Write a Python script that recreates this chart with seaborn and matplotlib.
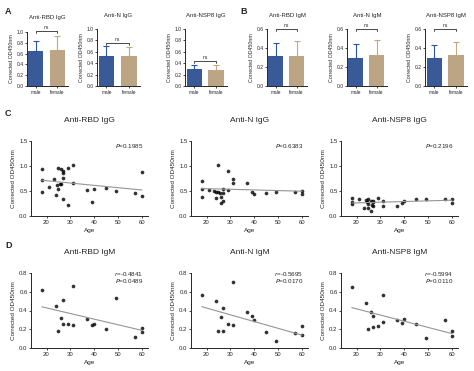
import numpy as np
import pandas as pd
import matplotlib
matplotlib.use("Agg")
import matplotlib.pyplot as plt
import seaborn as sns

sns.set_style("ticks")
plt.rcParams['font.family'] = ['Liberation Sans', 'DejaVu Sans']
plt.rcParams['axes.linewidth'] = 0.7
plt.rcParams['xtick.major.width'] = 0.6
plt.rcParams['ytick.major.width'] = 0.6
plt.rcParams['xtick.major.size'] = 1.5
plt.rcParams['ytick.major.size'] = 1.5
plt.rcParams['xtick.major.pad'] = 1.5
plt.rcParams['ytick.major.pad'] = 1.0

# ---- bar data (mean, upper SD end) ----
sexes = ['male', 'female']
bar_titles = ['Anti-RBD IgG', 'Anti-N IgG', 'Anti-NSP8 IgG',
              'Anti-RBD IgM', 'Anti-N IgM', 'Anti-NSP8 IgM']
bar_means = [[0.64, 0.66], [0.53, 0.53], [0.29, 0.28],
             [0.32, 0.32], [0.29, 0.33], [0.29, 0.33]]
bar_tops = [[0.83, 0.92], [0.70, 0.69], [0.36, 0.37],
            [0.45, 0.47], [0.44, 0.48], [0.43, 0.46]]
bracket_y = [1.02, 0.76, 0.44, 0.60, 0.60, 0.60]

# ---- scatter data ----
age_rbd_igg = [18, 18, 18, 21, 23, 24, 24.5, 25, 25, 25.5, 26, 26, 27, 27, 27, 27,
               29, 29, 31, 31, 37, 39, 40, 45, 49, 57, 60, 60]
od_rbd_igg = [0.95, 0.73, 0.48, 0.59, 0.75, 0.43, 0.63, 0.96, 0.54, 0.65, 0.95, 0.65,
              0.77, 0.90, 0.87, 0.35, 0.96, 0.23, 1.02, 0.66, 0.52, 0.29, 0.54, 0.56,
              0.50, 0.47, 0.88, 0.40]

age_n_igg = [18, 18, 18, 21, 23, 24, 24, 25, 25, 25.5, 26, 26, 27, 27, 27, 29, 29,
             31, 31, 37, 39, 40, 45, 49, 57, 60, 60]
od_n_igg = [0.71, 0.55, 0.39, 0.53, 0.51, 0.49, 0.36, 1.03, 0.49, 0.47, 0.39, 0.26,
            0.55, 0.47, 0.31, 0.90, 0.53, 0.75, 0.66, 0.67, 0.49, 0.45, 0.47, 0.48,
            0.49, 0.51, 0.45]

age_nsp8_igg = [18, 18, 18, 21, 23, 24, 24.5, 25, 25, 25, 26, 26, 26.5, 27, 27, 27,
                29, 31, 31, 37, 39, 40, 45, 49, 57, 60, 60]
od_nsp8_igg = [0.37, 0.28, 0.24, 0.35, 0.17, 0.33, 0.29, 0.34, 0.25, 0.17, 0.31,
               0.10, 0.23, 0.29, 0.21, 0.31, 0.36, 0.30, 0.20, 0.21, 0.27, 0.30,
               0.34, 0.34, 0.35, 0.35, 0.26]

age_rbd_igm = [18, 24, 25, 26, 27, 27, 29, 31, 31, 37, 39, 40, 45, 49, 57, 60, 60]
od_rbd_igm = [0.62, 0.45, 0.18, 0.32, 0.51, 0.26, 0.26, 0.66, 0.25, 0.31, 0.25,
              0.26, 0.20, 0.53, 0.12, 0.21, 0.17]

age_n_igm = [18, 24, 25, 26, 27, 27, 29, 31, 31, 37, 39, 40, 45, 49, 57, 60, 60]
od_n_igm = [0.57, 0.50, 0.18, 0.33, 0.43, 0.18, 0.26, 0.70, 0.25, 0.38, 0.34,
            0.30, 0.17, 0.07, 0.16, 0.23, 0.14]

age_nsp8_igm = [18, 24, 25, 26, 27, 27, 29, 31, 31, 37, 39, 40, 45, 49, 57, 60, 60]
od_nsp8_igm = [0.65, 0.48, 0.20, 0.38, 0.34, 0.22, 0.24, 0.57, 0.28, 0.30, 0.27,
               0.31, 0.26, 0.11, 0.30, 0.18, 0.13]

scatter_titles = ['Anti-RBD IgG', 'Anti-N IgG', 'Anti-NSP8 IgG',
                  'Anti-RBD IgM', 'Anti-N IgM', 'Anti-NSP8 IgM']
scatter_ages = [age_rbd_igg, age_n_igg, age_nsp8_igg, age_rbd_igm, age_n_igm, age_nsp8_igm]
scatter_ods = [od_rbd_igg, od_n_igg, od_nsp8_igg, od_rbd_igm, od_n_igm, od_nsp8_igm]
r_texts = [None, None, None, '-0.4841', '-0.5695', '-0.5994']
p_texts = ['0.1985', '0.6383', '0.2196', '0.0489', '0.0170', '0.0110']

blue = '#2a54a6'
tan = '#c4a77c'

W, H = 474, 371
fig = plt.figure(figsize=(W / 100, H / 100), dpi=100)


def px_axes(x0, x1, y0, y1):
    return fig.add_axes([x0 / W, 1 - y1 / H, (x1 - x0) / W, (y1 - y0) / H])


# ---- bar panels ----
bar_boxes = [(27, 68, 32, 86), (97, 140, 29, 86), (185, 227, 29, 86),
             (267, 307, 29, 86), (347, 387, 29, 86), (425, 467, 29, 86)]
for i, (x0, x1, y0, y1) in enumerate(bar_boxes):
    ax = px_axes(x0, x1, y0, y1)
    df = pd.DataFrame({'sex': sexes, 'od': bar_means[i]})
    sns.barplot(data=df, x='sex', y='od', hue='sex', palette=[blue, tan],
                width=0.7, legend=False, ax=ax, edgecolor='none')
    sds = np.array(bar_tops[i]) - np.array(bar_means[i])
    for j, c in enumerate([blue, tan]):
        ax.errorbar([j], [bar_means[i][j]], yerr=[[0], [sds[j]]], fmt='none',
                    ecolor=c, elinewidth=0.8, capsize=2.2, capthick=0.8)
    ax.set_xlim(-0.42, 1.5)
    if i < 3:
        ax.set_ylim(0, 1.0)
        ax.set_yticks([0, 0.2, 0.4, 0.6, 0.8, 1.0])
    else:
        ax.set_ylim(0, 0.6)
        ax.set_yticks([0, 0.2, 0.4, 0.6])
    ax.set_yticklabels([f'{v:.1f}' for v in ax.get_yticks()], fontsize=3.6)
    ax.tick_params(axis='x', labelsize=3.4, length=1.5)
    ax.set_xlabel('')
    ax.set_ylabel('Corrected OD450nm', fontsize=3.8, labelpad=1.5)
    ax.set_title(bar_titles[i], fontsize=4.3, pad=9)
    sns.despine(ax=ax)
    by = bracket_y[i]
    h = 0.035 * (ax.get_ylim()[1])
    ax.plot([0, 0, 1, 1], [by - h, by, by, by - h], color='black', lw=0.5,
            clip_on=False)
    ax.text(0.5, by + 0.5 * h, 'ns', ha='center', va='bottom', fontsize=3.6)

# ---- scatter panels ----
scatter_boxes = [(31, 148, 141, 216), (191, 308, 141, 216), (341, 458, 141, 216),
                 (31, 148, 273, 348), (191, 308, 273, 348), (341, 458, 273, 348)]
for i, (x0, x1, y0, y1) in enumerate(scatter_boxes):
    ax = px_axes(x0, x1, y0, y1)
    df = pd.DataFrame({'Age': scatter_ages[i], 'OD': scatter_ods[i]})
    sns.regplot(data=df, x='Age', y='OD', ci=None, ax=ax,
                scatter_kws={'s': 7, 'color': 'black', 'linewidths': 0},
                line_kws={'color': '#959595', 'lw': 0.8})
    ax.set_xlim(13.5, 62.5)
    ax.set_xticks([20, 30, 40, 50, 60])
    if i < 3:
        ax.set_ylim(0, 1.5)
        ax.set_yticks([0, 0.5, 1.0, 1.5])
    else:
        ax.set_ylim(0, 0.8)
        ax.set_yticks([0, 0.2, 0.4, 0.6, 0.8])
    ax.set_yticklabels([f'{v:.1f}' for v in ax.get_yticks()])
    ax.tick_params(labelsize=4.3)
    ax.set_ylabel('Corrected OD450nm', fontsize=4.6, labelpad=2)
    ax.set_xlabel('Age', fontsize=4.6, labelpad=2)
    ax.set_title(scatter_titles[i], fontsize=6, pad=14)
    sns.despine(ax=ax)
    if r_texts[i] is None:
        ax.text(0.96, 0.93, r'$\it{P}$=' + p_texts[i], transform=ax.transAxes,
                ha='right', va='center', fontsize=4.5)
    else:
        ax.text(0.96, 0.98, r'$\it{r}$=' + r_texts[i], transform=ax.transAxes,
                ha='right', va='center', fontsize=4.5)
        ax.text(0.96, 0.89, r'$\it{P}$=' + p_texts[i], transform=ax.transAxes,
                ha='right', va='center', fontsize=4.5)

# panel letters
for lab, x, y in [('A', 5, 12), ('B', 240, 12), ('C', 5, 114), ('D', 5, 246)]:
    fig.text(x / W, 1 - y / H, lab, fontsize=6.5, fontweight='bold',
             ha='left', va='center')

fig.savefig('out.png', dpi=100)
